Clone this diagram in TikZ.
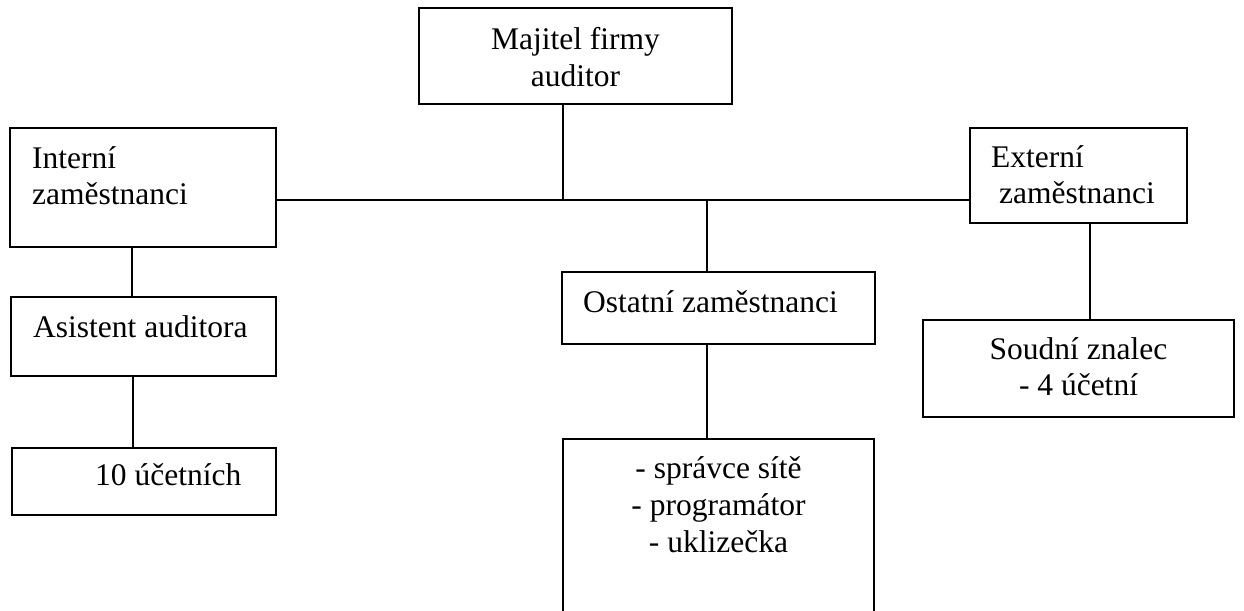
\documentclass[tikz,border=0pt]{standalone}
\usepackage{fontspec}
\setmainfont{Liberation Serif}
\usetikzlibrary{fit}
\begin{document}
\begin{tikzpicture}[x=1pt,y=-1pt,
  box/.style={draw=black,line width=1.8pt,inner sep=0pt,fill=none},
  conn/.style={draw=black,line width=1.8pt},
  txt/.style={inner sep=0pt,font=\fontsize{31.5}{36}\selectfont}]
\useasboundingbox (0,0) rectangle (1244,610);
\fill[white] (0,0) rectangle (1244,610);
\clip (0,0) rectangle (1244,610);
% boxes
\node[box,fit={(419,8) (732,104)}] (maj) {};
\node[box,fit={(10,128) (276,247)}] (int) {};
\node[box,fit={(970,128) (1187,223)}] (ext) {};
\node[box,fit={(11,297) (276,376)}] (ast) {};
\node[box,fit={(12,448) (276,515)}] (uc) {};
\node[box,fit={(562,272) (875,344)}] (ost) {};
\node[box,fit={(563,439) (874,650)}] (lst) {};
\node[box,fit={(923,320) (1234,417)}] (soud) {};
% texts
\node[txt,anchor=base] (t1) at (575.5,49) {Majitel firmy};
\node[txt,anchor=base] (t2) at (575.5,86) {auditor};
\node[txt,anchor=base west] (t3) at (32,168) {Interní};
\node[txt,anchor=base west] (t4) at (32,204) {zaměstnanci};
\node[txt,anchor=base west] (t5) at (991,167) {Externí};
\node[txt,anchor=base west] (t6) at (999,203) {zaměstnanci};
\node[txt,anchor=base west] (t7) at (33,337) {Asistent auditora};
\node[txt,anchor=base west] (t8) at (95,485) {10 účetních};
\node[txt,anchor=base west] (t9) at (583,312) {Ostatní zaměstnanci};
\node[txt,anchor=base] (t10) at (718.5,478) {- správce sítě};
\node[txt,anchor=base] (t11) at (718.5,515) {- programátor};
\node[txt,anchor=base] (t12) at (718.5,552) {- uklizečka};
\node[txt,anchor=base] (t13) at (1078.5,359) {Soudní znalec};
\node[txt,anchor=base] (t14) at (1078.5,395) {- 4 účetní};
% connectors
\coordinate (j1) at (563,200);
\coordinate (j2) at (707,200);
\coordinate (j3) at (132,0);
\coordinate (j4) at (133,0);
\coordinate (j5) at (1090,0);
\draw[conn] (int.east |- j1) -- (ext.west |- j1);
\draw[conn] (maj.south -| j1) -- (j1);
\draw[conn] (j2) -- (j2 |- ost.north);
\draw[conn] (ost.south -| j2) -- (lst.north -| j2);
\draw[conn] (int.south -| j3) -- (ast.north -| j3);
\draw[conn] (ast.south -| j4) -- (uc.north -| j4);
\draw[conn] (ext.south -| j5) -- (soud.north -| j5);
\end{tikzpicture}
\end{document}
